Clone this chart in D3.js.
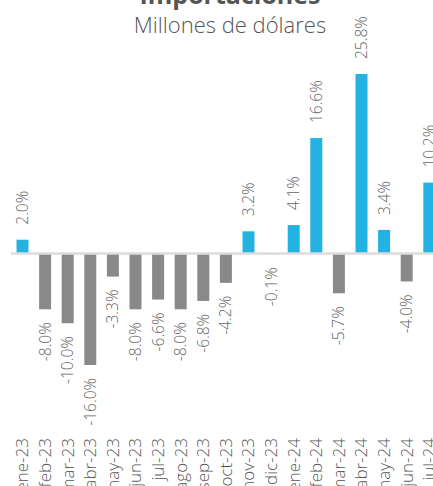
<!DOCTYPE html>
<html>
<head>
<meta charset="utf-8">
<script src="https://cdn.jsdelivr.net/npm/d3@7"></script>
<style>
  html, body { margin: 0; padding: 0; background: #fff; overflow: hidden; }
  svg { display: block; font-family: "Open Sans", "Noto Sans", sans-serif; }
</style>
</head>
<body>
<div id="chart"></div>
<script>
const months = [
  'ene-23', 'feb-23', 'mar-23', 'abr-23', 'may-23', 'jun-23', 'jul-23', 'ago-23',
  'sep-23', 'oct-23', 'nov-23', 'dic-23', 'ene-24', 'feb-24', 'mar-24', 'abr-24',
  'may-24', 'jun-24', 'jul-24',
];
const values = [
  2.0, -8.0, -10.0, -16.0, -3.3, -8.0, -6.6, -8.0,
  -6.8, -4.2, 3.2, -0.1, 4.1, 16.6, -5.7, 25.8,
  3.4, -4.0, 10.2,
];
const title = 'Importaciones';
const subtitle = 'Millones de dólares';

const width = 433;
const height = 486;

const data = months.map((m, i) => ({ month: m, value: values[i] }));

const svg = d3.select('#chart').append('svg')
  .attr('width', width)
  .attr('height', height);

// x: bars ~12px wide on a ~22.6px step
const x = d3.scaleBand()
  .domain(months)
  .range([11.2, 11.2 + months.length * 22.6])
  .paddingInner(0.47)
  .paddingOuter(0.235);

const y = d3.scaleLinear()
  .domain([-16, 25.8])
  .range([365, 74]);

svg.append('text')
  .attr('x', 230)
  .attr('y', 4)
  .attr('text-anchor', 'middle')
  .attr('font-size', 25)
  .attr('font-weight', 700)
  .attr('fill', '#555')
  .text(title);

svg.append('text')
  .attr('x', 230)
  .attr('y', 33)
  .attr('text-anchor', 'middle')
  .attr('font-size', 22)
  .attr('font-weight', 300)
  .attr('fill', '#555')
  .text(subtitle);

svg.append('g')
  .selectAll('rect')
  .data(data)
  .join('rect')
  .attr('x', d => x(d.month))
  .attr('width', x.bandwidth())
  .attr('y', d => d.value >= 0 ? y(d.value) : y(0))
  .attr('height', d => Math.abs(y(d.value) - y(0)))
  .attr('fill', d => d.value >= 0 ? '#23b3e3' : '#898989');

svg.append('line')
  .attr('x1', 11)
  .attr('x2', width)
  .attr('y1', y(0))
  .attr('y2', y(0))
  .attr('stroke', '#dcdcdc')
  .attr('stroke-width', 2.5);

// value labels, rotated
svg.append('g')
  .selectAll('text')
  .data(data)
  .join('text')
  .attr('transform', d => {
    const cx = x(d.month) + x.bandwidth() / 2;
    const yy = d.value >= 0 ? y(d.value) - 15 : y(d.value) + 13;
    return `translate(${cx},${yy}) rotate(-90)`;
  })
  .attr('dy', '0.35em')
  .attr('text-anchor', d => d.value >= 0 ? 'start' : 'end')
  .attr('font-size', 15.5)
  .attr('font-weight', 300)
  .attr('fill', '#666')
  .text(d => d.value.toFixed(1) + '%');

// month labels
svg.append('g')
  .selectAll('text')
  .data(data)
  .join('text')
  .attr('transform', d => `translate(${x(d.month) + x.bandwidth() / 2},438) rotate(-90)`)
  .attr('dy', '0.35em')
  .attr('text-anchor', 'end')
  .attr('font-size', 17)
  .attr('font-weight', 300)
  .attr('fill', '#555')
  .text(d => d.month);
</script>
</body>
</html>
